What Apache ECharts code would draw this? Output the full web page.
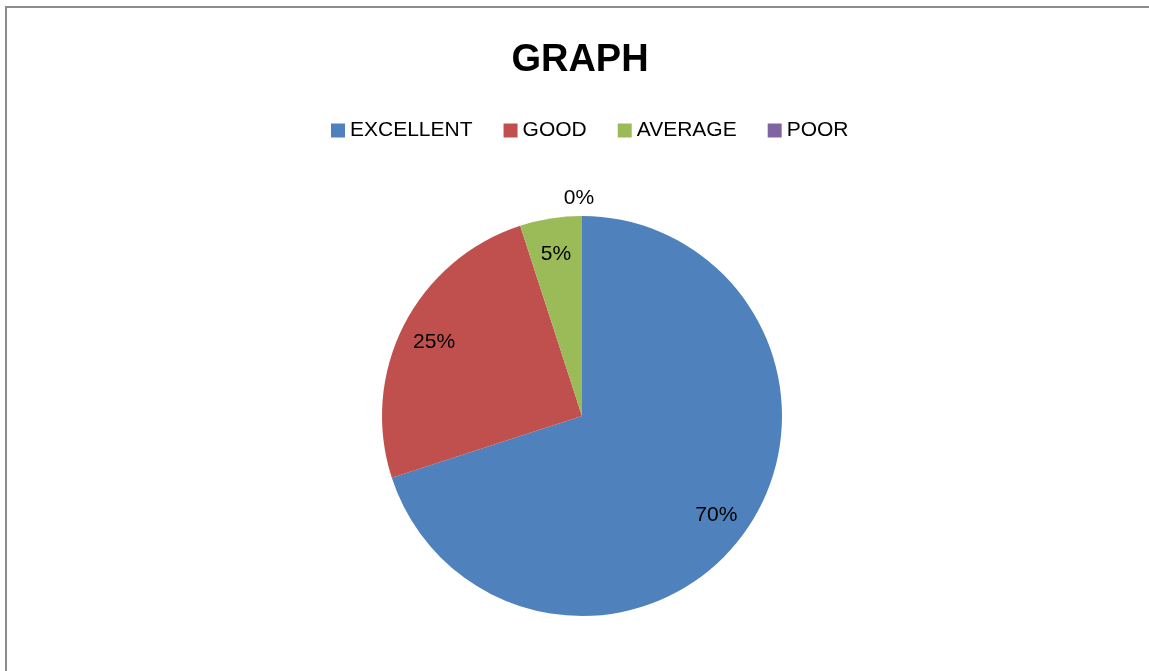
<!DOCTYPE html>
<html>
<head>
<meta charset="utf-8">
<script src="https://cdn.jsdelivr.net/npm/echarts@6/dist/echarts.min.js"></script>
<style>
  html, body { margin: 0; padding: 0; background: #fff; }
  #chart { width: 1149px; height: 671px; position: relative; }
  .frame {
    position: absolute;
    left: 5px;
    top: 6px;
    width: 1200px;
    height: 700px;
    border-top: 2px solid #8c8c8c;
    border-left: 2px solid #8c8c8c;
    pointer-events: none;
  }
</style>
</head>
<body>
<div class="frame"></div>
<div id="chart"></div>
<script>
const categories = ['EXCELLENT', 'GOOD', 'AVERAGE', 'POOR']
const values = [70, 25, 5, 0]
const colors = ['#4F81BD', '#C0504D', '#9BBB59', '#8064A2']

const font = '"Liberation Sans", Arial, sans-serif'
const pieData = categories.map((name, i) => ({ name, value: values[i] }))

const labelFmt = p => Math.round(p.percent) + '%'

const chart = echarts.init(document.getElementById('chart'))
chart.setOption({
  color: colors,
  animation: false,
  title: {
    text: 'GRAPH',
    left: 575,
    textAlign: 'center',
    top: 37,
    textStyle: { fontFamily: font, fontSize: 38, fontWeight: 'bold', color: '#000' }
  },
  legend: {
    data: categories,
    left: 326,
    top: 115,
    icon: 'rect',
    itemWidth: 14,
    itemHeight: 14,
    itemGap: 31,
    textStyle: { fontFamily: font, fontSize: 21, color: '#000' }
  },
  series: [
    {
      // the visible pie
      type: 'pie',
      center: [582, 416],
      radius: [0, 200],
      startAngle: 90,
      clockwise: true,
      label: { show: false },
      labelLine: { show: false },
      itemStyle: { borderWidth: 0 },
      emphasis: { disabled: true },
      data: pieData
    },
    {
      // transparent ring that carries the inner percentage labels
      type: 'pie',
      center: [582, 418],
      radius: [126, 200],
      startAngle: 90,
      silent: true,
      itemStyle: { color: 'transparent', borderWidth: 0 },
      label: {
        position: 'inside',
        formatter: p => (p.value > 0 ? labelFmt(p) : ''),
        fontFamily: font,
        fontSize: 21,
        color: '#000'
      },
      labelLine: { show: false },
      emphasis: { disabled: true },
      data: pieData
    },
    {
      // transparent ring outside for zero-value labels
      type: 'pie',
      center: [579, 416],
      radius: [200, 230],
      startAngle: 90,
      silent: true,
      itemStyle: { color: 'transparent', borderWidth: 0 },
      label: {
        position: 'inside',
        formatter: p => (p.value === 0 ? labelFmt(p) : ''),
        fontFamily: font,
        fontSize: 21,
        color: '#000'
      },
      labelLine: { show: false },
      emphasis: { disabled: true },
      data: pieData
    }
  ]
})
</script>
</body>
</html>
